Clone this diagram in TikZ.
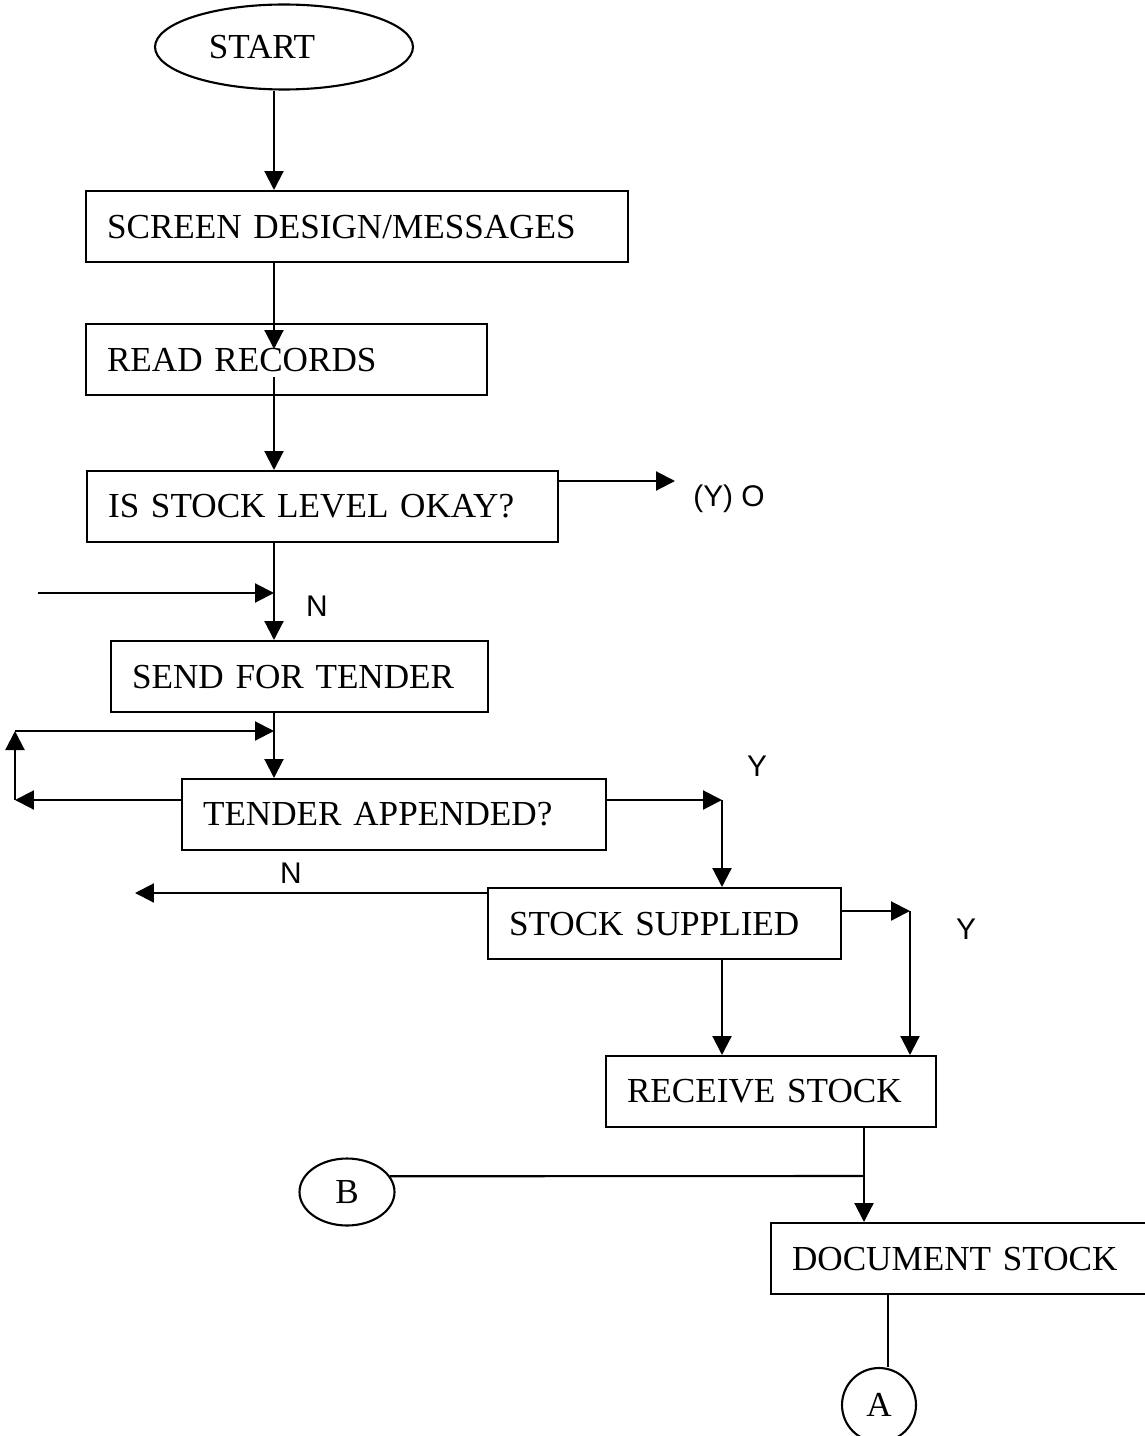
\documentclass[tikz,border=0pt]{standalone}
\usepackage{fontspec}
\setmainfont{Liberation Serif}
\newfontfamily\lblfont{Liberation Sans}
\usetikzlibrary{shapes.geometric,arrows.meta}

\begin{document}
\begin{tikzpicture}[x=0.02cm, y=-0.02cm, line width=1.2pt,
	box/.style={draw, anchor=north west, align=left, text width=#1, inner xsep=0.42cm, minimum height=1.42cm, font=\fontsize{20}{24}\selectfont},
	term/.style={draw, ellipse, inner sep=0pt, font=\fontsize{20}{24}\selectfont},
	lbl/.style={font=\lblfont\fontsize{17}{20}\selectfont},
	arr/.style={-{Triangle[length=0.38cm, width=0.38cm]}}]
	\useasboundingbox (0,0) rectangle (1145,1436);

	\node[term, minimum width=5.16cm, minimum height=1.7cm] (start) at (284,47) {START\kern0.88cm};
	\node[box=10.0cm] (sd) at (85,190) {SCREEN DESIGN/MESSAGES};
	\node[box=7.18cm] (rr) at (85,323) {READ RECORDS};
	\node[box=8.58cm] (is) at (86,470) {IS STOCK LEVEL OKAY?};
	\node[box=6.70cm] (sft) at (110,640) {SEND FOR TENDER};
	\node[box=7.64cm] (ta) at (181,778) {TENDER APPENDED?};
	\node[box=6.22cm] (ss) at (487,887) {STOCK SUPPLIED};
	\node[box=5.76cm] (rs) at (605,1055) {RECEIVE STOCK};
	\node[box=6.9cm] (ds) at (770,1222) {DOCUMENT STOCK};
	\node[term, minimum width=1.9cm, minimum height=1.34cm] (b) at (347,1192) {B};
	\node[term, circle, minimum size=1.48cm] (a) at (879,1405) {A};

	\node[lbl] (yo) at (729,499) {(Y) O};
	\node[lbl] (n1) at (317,606) {N};
	\node[lbl] (y1) at (757,766) {Y};
	\node[lbl] (n2) at (291,873) {N};
	\node[lbl] (y2) at (966,929) {Y};

	\coordinate (colA) at (274,0);
	\coordinate (rrin) at (274,349);
	\coordinate (rrout) at (274,377);
	\coordinate (yarr) at (675,481);
	\coordinate (nin) at (38,593);
	\coordinate (lp1) at (15,800);
	\coordinate (lp2) at (15,731);
	\coordinate (yb) at (722,800);
	\coordinate (nout) at (135,893);
	\coordinate (yc) at (910,911);
	\coordinate (jb) at (864,1176);
	\coordinate (colE) at (888,0);

	\draw[arr] (start.south -| colA) -- (colA |- sd.north);
	\draw[arr] (sd.south -| colA) -- (rrin);
	\draw[arr] (rrout) -- (colA |- is.north);
	\draw[arr] (is.east |- yarr) -- (yarr);
	\draw[arr] (is.south -| colA) -- (colA |- sft.north);
	\draw[arr] (nin) -- (nin -| colA);
	\draw[arr] (sft.south -| colA) -- (colA |- ta.north);
	\draw[arr] (ta.west |- lp1) -- (lp1);
	\draw[arr] (lp1) -- (lp2);
	\draw[arr] (lp2) -- (lp2 -| colA);
	\draw[arr] (ta.east |- yb) -- (yb);
	\draw[arr] (yb) -- (yb |- ss.north);
	\draw[arr] (ss.west |- nout) -- (nout);
	\draw[arr] (ss.east |- yc) -- (yc);
	\draw[arr] (yc) -- (yc |- rs.north);
	\draw[arr] (ss.south -| yb) -- (yb |- rs.north);
	\draw (rs.south -| jb) -- (jb);
	\draw (b.20) -- (jb);
	\draw[arr] (jb) -- (jb |- ds.north);
	\draw (ds.south -| colE) -- (colE |- a.north);
\end{tikzpicture}
\end{document}
